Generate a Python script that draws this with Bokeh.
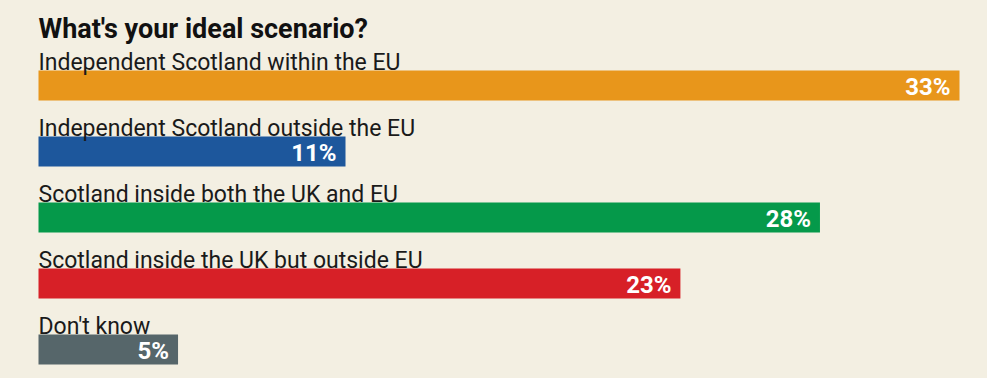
from bokeh.plotting import figure
from bokeh.models import Range1d, ColumnDataSource
from bokeh.core.properties import value
from bokeh.embed import file_html
from bokeh.resources import INLINE

title = "What's your ideal scenario?"
categories = [
    "Independent Scotland within the EU",
    "Independent Scotland outside the EU",
    "Scotland inside both the UK and EU",
    "Scotland inside the UK but outside EU",
    "Don't know",
]
values = [33, 11, 28, 23, 5]
colors = ["#E8961B", "#1D579C", "#05994A", "#D72027", "#56666A"]

BG = "#F3EFE2"
W, H = 987, 378
x0_px = 38
px_per = 921 / 33.0

p = figure(width=W, height=H, output_backend="svg", toolbar_location=None,
           x_range=Range1d(-x0_px / px_per, (W - x0_px) / px_per),
           y_range=Range1d(H, 0), min_border=0)
p.axis.visible = False
p.grid.visible = False
p.outline_line_color = None
p.background_fill_color = BG
p.border_fill_color = BG

step = 66
bar_top0 = 70
bar_h = 30
n = len(values)
tops = [bar_top0 + step * i for i in range(n)]
src = ColumnDataSource(dict(
    cat=categories,
    val=values,
    color=colors,
    top=tops,
    bottom=[t + bar_h for t in tops],
    mid=[t + bar_h / 2 for t in tops],
    lab_y=[t - 8 for t in tops],
    pct=[f"{v}%" for v in values],
))

p.quad(left=0, right="val", top="top", bottom="bottom", fill_color="color",
       line_color=None, source=src)

p.text(x=0, y="lab_y", text="cat", source=src, text_font=value("Roboto"),
       text_font_size="23px", text_color="#1a1a1a", text_baseline="alphabetic",
       text_align="left")

p.text(x="val", y="mid", text="pct", source=src, text_font=value("Roboto"),
       text_font_size="24px", text_font_style="bold", text_color="white",
       text_baseline="middle", text_align="right", x_offset=-9, y_offset=1)

p.text(x=[0], y=[28], text=[title], text_font=value("Roboto"),
       text_font_size="27px", text_font_style="bold", text_color="#111111",
       text_baseline="alphabetic", text_align="left")

html = file_html(p, INLINE)
html = html.replace("<head>", "<head><style>body{background:%s;}</style>" % BG, 1)
open("out.html", "w").write(html)
